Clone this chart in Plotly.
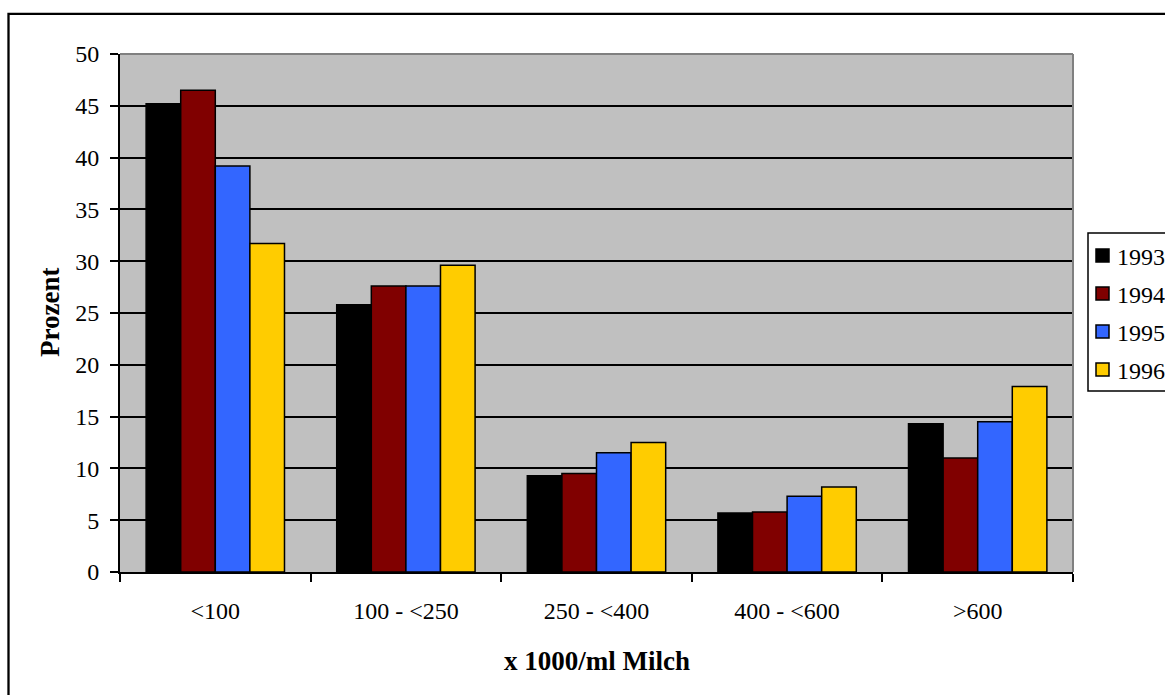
import plotly.graph_objects as go

categories = ["<100", "100 - <250", "250 - <400", "400 - <600", ">600"]
years = ["1993", "1994", "1995", "1996"]
v1993 = [45.2, 25.8, 9.3, 5.7, 14.3]
v1994 = [46.5, 27.6, 9.5, 5.8, 11.0]
v1995 = [39.2, 27.6, 11.5, 7.3, 14.5]
v1996 = [31.7, 29.6, 12.5, 8.2, 17.9]
series = [v1993, v1994, v1995, v1996]
colors = ["#000000", "#800000", "#3366FF", "#FFCC00"]
yticks = [0, 5, 10, 15, 20, 25, 30, 35, 40, 45, 50]

W, H = 1165, 695
L, R, T, B = 120, 1073, 54, 572
FONT = "Liberation Serif, Times New Roman, serif"


def px(x):
    return (x - L) / (R - L)


def py(y):
    return (B - y) / (B - T)


fig = go.Figure()
for name, vals, col in zip(years, series, colors):
    fig.add_trace(go.Bar(
        x=categories, y=vals, name=name,
        marker=dict(color=col, line=dict(color="#000000", width=1.5)),
        showlegend=False,
    ))

shapes = []
annotations = []
# plot area border (top, right) in gray
shapes.append(dict(type="line", xref="paper", yref="paper", x0=0, x1=1, y0=1, y1=1,
                   line=dict(color="#808080", width=2), layer="above"))
shapes.append(dict(type="line", xref="paper", yref="paper", x0=1, x1=1, y0=0, y1=1,
                   line=dict(color="#808080", width=2), layer="above"))
# outer chart frame
shapes.append(dict(type="rect", xref="paper", yref="paper",
                   x0=px(8.5), x1=px(1200), y0=py(13.8), y1=py(730),
                   line=dict(color="#000000", width=2.3), layer="above"))
# manual legend
shapes.append(dict(type="rect", xref="paper", yref="paper",
                   x0=px(1088), x1=px(1220), y0=py(233), y1=py(391),
                   line=dict(color="#000000", width=1.5), fillcolor="#FFFFFF", layer="above"))
centers = [255.5, 293.5, 331.5, 369.5]
for name, col, cy in zip(years, colors, centers):
    shapes.append(dict(type="rect", xref="paper", yref="paper",
                       x0=px(1096), x1=px(1109), y0=py(cy - 6.5), y1=py(cy + 6.5),
                       line=dict(color="#000000", width=1.5), fillcolor=col, layer="above"))
    annotations.append(dict(xref="paper", yref="paper", x=px(1115), y=py(cy + 1),
                            text=name, showarrow=False, xanchor="left", yanchor="middle",
                            font=dict(family=FONT, size=24, color="#000000")))

# axis titles
annotations.append(dict(xref="paper", yref="paper", x=0.5, y=py(661),
                        text="<b>x 1000/ml Milch</b>", showarrow=False,
                        xanchor="center", yanchor="middle",
                        font=dict(family=FONT, size=27, color="#000000")))
annotations.append(dict(xref="paper", yref="paper", x=px(50), y=0.5,
                        text="<b>Prozent</b>", showarrow=False, textangle=-90,
                        xanchor="center", yanchor="middle",
                        font=dict(family=FONT, size=27, color="#000000")))

fig.update_layout(
    width=W, height=H, autosize=False,
    margin=dict(l=L, r=W - R, t=T, b=H - B, pad=0),
    paper_bgcolor="#FFFFFF", plot_bgcolor="#C0C0C0",
    barmode="group", bargap=0.274, bargroupgap=0,
    font=dict(family=FONT, size=24, color="#000000"),
    shapes=shapes, annotations=annotations,
    xaxis=dict(type="category", showline=True, linecolor="#000000", linewidth=2,
               ticks="outside", ticklen=8, tickwidth=1.5, tickcolor="#000000",
               tickson="boundaries", showgrid=False, zeroline=False,
               tickfont=dict(family=FONT, size=24, color="#000000"),
               ticklabelstandoff=16, fixedrange=True),
    yaxis=dict(range=[0, 50], tickvals=yticks, showline=True, linecolor="#000000",
               linewidth=2, ticks="outside", ticklen=8, tickwidth=1.5,
               tickcolor="#000000", showgrid=True, gridcolor="#000000", gridwidth=1.5,
               zeroline=False, tickfont=dict(family=FONT, size=24, color="#000000"),
               ticklabelstandoff=6, fixedrange=True),
)

fig.write_html("out.html", config={"displayModeBar": False})
